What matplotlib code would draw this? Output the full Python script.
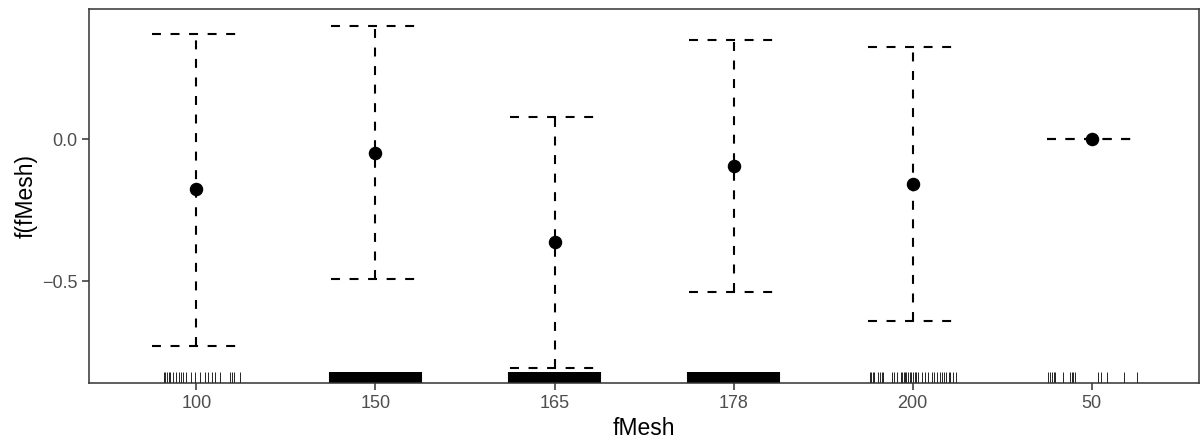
import matplotlib
matplotlib.use("Agg")
import matplotlib.pyplot as plt
import matplotlib.transforms as mtransforms

plt.rcParams["font.family"] = ["Liberation Sans", "DejaVu Sans"]

# factor levels (as R orders them) and partial effect estimates
LEVELS = ["100", "150", "165", "178", "200", "50"]
FIT = [-0.176, -0.049, -0.363, -0.095, -0.158, 0.0]
UPPER = [0.370, 0.398, 0.077, 0.349, 0.324, 0.0]
LOWER = [-0.729, -0.493, -0.806, -0.539, -0.641, 0.0]

# jittered rug positions, offsets from each level's centre
RUG_100 = [-0.182, -0.175, -0.166, -0.155, -0.145, -0.132, -0.115, -0.100,
           -0.087, -0.076, -0.057, -0.033, -0.009, 0.018, 0.046, 0.065,
           0.089, 0.106, 0.132, 0.188, 0.197, 0.210, 0.242]
RUG_DENSE = [-0.252, -0.241, -0.231, -0.220, -0.210, -0.200, -0.189, -0.179,
             -0.169, -0.158, -0.148, -0.138, -0.127, -0.117, -0.107, -0.096,
             -0.086, -0.076, -0.065, -0.055, -0.045, -0.034, -0.024, -0.014,
             -0.003, 0.007, 0.017, 0.028, 0.038, 0.048, 0.059, 0.069, 0.079,
             0.090, 0.100, 0.110, 0.121, 0.131, 0.141, 0.152, 0.162, 0.172,
             0.183, 0.193, 0.203, 0.214, 0.224, 0.234, 0.245, 0.252]
RUG_200 = [-0.240, -0.230, -0.219, -0.214, -0.191, -0.184, -0.171, -0.163,
           -0.115, -0.102, -0.088, -0.065, -0.057, -0.050, -0.043, -0.035,
           -0.026, -0.017, -0.007, 0.002, 0.011, 0.021, 0.030, 0.050, 0.069,
           0.088, 0.110, 0.121, 0.136, 0.151, 0.166, 0.177, 0.188, 0.202,
           0.210, 0.227, 0.244]
RUG_50 = [-0.241, -0.234, -0.219, -0.212, -0.203, -0.160, -0.119, -0.112,
          -0.104, -0.093, 0.035, 0.050, 0.088, 0.180, 0.251]
RUGS = [RUG_100, RUG_DENSE, RUG_DENSE, RUG_DENSE, RUG_200, RUG_50]

X_LABEL = "fMesh"
Y_LABEL = "f(fMesh)"

DASH = (0, (4.3, 4.6))
CAP = 0.25
GREY = "#4D4D4D"


def main() -> None:
    fig = plt.figure(figsize=(12.03, 4.43), dpi=100)
    ax = fig.add_axes([0.074, 0.1354, 0.9227, 0.8443])

    xs = list(range(1, len(LEVELS) + 1))
    rug_tr = mtransforms.blended_transform_factory(ax.transData, ax.transAxes)

    for x, fit, lo, hi, rug in zip(xs, FIT, LOWER, UPPER, RUGS):
        ax.vlines(x, lo, hi, colors="black", linewidth=1.5, linestyles=DASH)
        ax.hlines([hi, lo], x - CAP, x + CAP, colors="black",
                  linewidth=1.5, linestyles=DASH)
        ax.plot(x, fit, "o", color="black", markersize=8.7, zorder=4)
        lw = 1.5 if rug is RUG_DENSE else 0.6
        ax.vlines([x + r for r in rug], 0, 0.03, colors="black",
                  linewidth=lw, transform=rug_tr)

    ax.set_xlim(0.4, 6.6)
    ax.set_ylim(-0.859, 0.458)
    ax.set_xticks(xs)
    ax.set_xticklabels(LEVELS)
    ax.set_yticks([-0.5, 0.0])
    ax.set_yticklabels(["\u22120.5", "0.0"])

    for side in ax.spines.values():
        side.set_color("#333333")
        side.set_linewidth(1.1)
    ax.tick_params(colors="#333333", labelcolor=GREY, labelsize=13,
                   length=5, width=1.1, pad=3.5)
    ax.set_xlabel(X_LABEL, fontsize=16.5, labelpad=4)
    ax.set_ylabel(Y_LABEL, fontsize=16.5, labelpad=3)

    fig.savefig("out.png", dpi=100)


if __name__ == "__main__":
    main()
